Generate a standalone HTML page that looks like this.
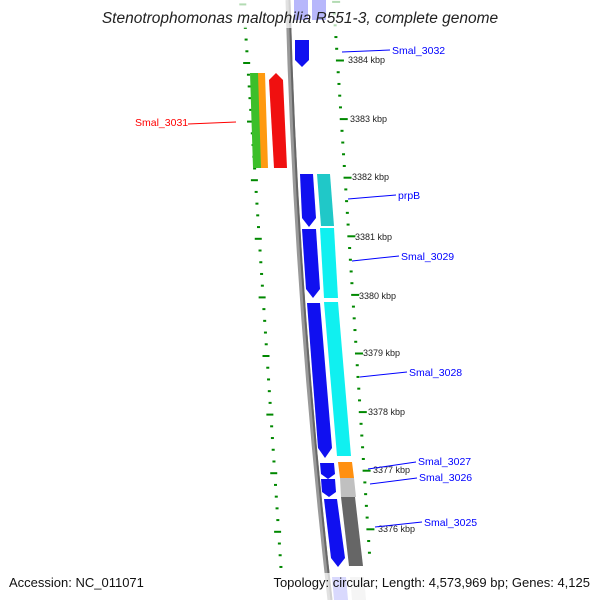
<!DOCTYPE html>
<html><head><style>
body{margin:0;background:#fff}
svg{display:block;font-family:"Liberation Sans","DejaVu Sans",sans-serif}
</style></head><body>
<svg id="s" width="600" height="600" xmlns="http://www.w3.org/2000/svg">
<rect width="600" height="600" fill="#fff"/>
<g id="ticks"></g>
<!-- backbone -->
<path d="M288,0 Q296,300 330,600" stroke="#999" stroke-width="5" fill="none"/>
<path d="M289.5,0 Q297.5,300 331.5,600" stroke="#666" stroke-width="2" fill="none"/>
<!-- top features -->
<polygon points="294,0 308,0 308,20 294,20" fill="#1010f0"/>
<polygon points="312,0 326,0 326,20 312,20" fill="#1010f0"/>
<polygon points="295,40 309,40 309,60 302,67 295,60" fill="#1010f0"/>
<!-- green/orange/red -->
<polygon points="250,73 259,73 262,168 253,168" fill="#3cbf2a"/>
<polygon points="258,73 265,73 268,168 261,168" fill="#ff9a10"/>
<polygon points="269,80 276,73 283,80 287,168 274,168" fill="#f01010"/>
<!-- pairs -->
<polygon points="300,174 313,174 316,218 309,227 302,218" fill="#1010f0"/>
<polygon points="317,174 330,174 334,226 321,226" fill="#20c8c8"/>
<polygon points="302,229 316,229 320,289 313,298 306,289" fill="#1010f0"/>
<polygon points="320,228 334,228 338,298 324,298" fill="#10f0f0"/>
<polygon points="307,303 320,303 332,448 325,458 318,448" fill="#1010f0"/>
<polygon points="324,302 338,302 351,456 337,456" fill="#10f0f0"/>
<polygon points="320,463 334,463 335,474 328,479 321,474" fill="#1010f0"/>
<polygon points="321,479 335,479 336,492 329,497 322,492" fill="#1010f0"/>
<polygon points="338,462 352,462 354,478 340,478" fill="#ff9010"/>
<polygon points="340,478 354,478 356,497 341,497" fill="#c0c0c0"/>
<polygon points="324,499 337,499 345,558 338,567 331,558" fill="#1010f0"/>
<polygon points="341,497 355,497 363,566 349,566" fill="#666"/>
<polygon points="332,577 346,577 348,600 334,600" fill="#8080f8"/>
<polygon points="350,577 364,577 366,600 352,600" fill="#ddd"/>
<!-- labels -->
<g font-size="9" fill="#222" id="kl"></g>
<g stroke="#00f" stroke-width="1">
<line x1="342" y1="52" x2="390" y2="50"/>
<line x1="348" y1="199" x2="396" y2="195"/>
<line x1="352" y1="261" x2="399" y2="256"/>
<line x1="360" y1="377" x2="407" y2="372"/>
<line x1="368" y1="469" x2="416" y2="462"/>
<line x1="370" y1="484" x2="417" y2="478"/>
<line x1="375" y1="527" x2="422" y2="522"/>
</g>
<line x1="188" y1="124" x2="236" y2="122" stroke="#f00"/>
<g font-size="10.5" fill="#00f">
<text x="392" y="54">Smal_3032</text>
<text x="398" y="199">prpB</text>
<text x="401" y="260">Smal_3029</text>
<text x="409" y="376">Smal_3028</text>
<text x="418" y="465">Smal_3027</text>
<text x="419" y="481">Smal_3026</text>
<text x="424" y="526">Smal_3025</text>
</g>
<text x="135" y="126" font-size="10.5" fill="#f00">Smal_3031</text>
<rect x="0" y="0" width="600" height="28" fill="#fff" opacity="0.7"/>
<text x="300" y="23" font-size="15.5" font-style="italic" text-anchor="middle" fill="#222">Stenotrophomonas maltophilia R551-3, complete genome</text>
<rect x="0" y="573" width="600" height="27" fill="#fff" opacity="0.7"/>
<text x="9" y="587" font-size="13" fill="#111">Accession: NC_011071</text>
<text x="590" y="587" font-size="13" fill="#111" text-anchor="end">Topology: circular; Length: 4,573,969 bp; Genes: 4,125</text>
</svg>
<script>
var ns="http://www.w3.org/2000/svg",g=document.getElementById("ticks"),kl=document.getElementById("kl");
function r(x,y,w){var e=document.createElementNS(ns,"rect");e.setAttribute("x",x);e.setAttribute("y",y-1);e.setAttribute("width",w);e.setAttribute("height",2);e.setAttribute("fill","#080");g.appendChild(e);}
for(var k=-2;k<60;k++){var y=4.4+11.72*k;if(y<0||y>568)continue;var maj=(k%5==0);var x=242+0.066*y;r(maj?x-3:x,y,maj?7:3);}
for(var k=-6;k<60;k++){var y=60.5+11.72*k;if(y<0||y>560)continue;var maj=(k%5==0);var x=332+0.065*y;r(x,y,maj?8:3);}
var labs=[[3384,348,63],[3383,350,122],[3382,352,180],[3381,355,240],[3380,359,299],[3379,363,356],[3378,368,415],[3377,373,473],[3376,378,532]];
labs.forEach(function(l){var t=document.createElementNS(ns,"text");t.setAttribute("x",l[1]);t.setAttribute("y",l[2]);t.textContent=l[0]+" kbp";kl.appendChild(t);});
</script>
</body></html>
